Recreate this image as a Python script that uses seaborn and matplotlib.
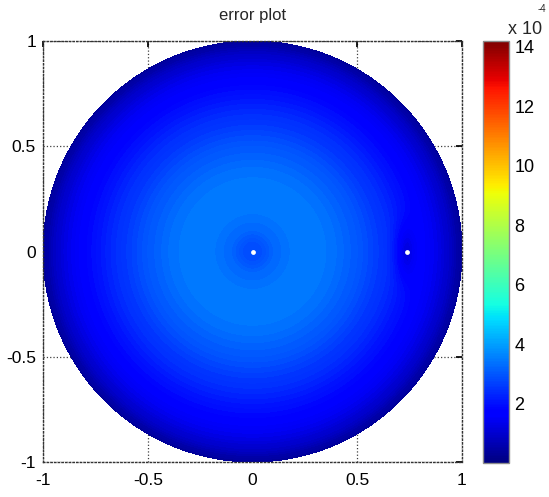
import numpy as np
import matplotlib
matplotlib.use("Agg")
import matplotlib.pyplot as plt
import seaborn as sns

# ---- data ----
title = "error plot"
radius = [0.0, 0.05, 0.1, 0.2, 0.3, 0.4, 0.5, 0.6, 0.7, 0.8, 0.9, 0.95, 1.0]
error_profile = [2.8, 2.9, 3.2, 3.45, 3.5, 3.3, 3.0, 2.6, 2.2, 1.75, 1.2, 0.8, 0.3]  # x 10^-4
spot_x = [0.737]
spot_y = [0.0]
spot_err = [1.2]
singular_x = [0.0, 0.737]
singular_y = [0.0, 0.0]
axis_ticks = [-1, -0.5, 0, 0.5, 1]
axis_ticklabels = ["-1", "-0.5", "0", "0.5", "1"]
cbar_ticks = [2, 4, 6, 8, 10, 12, 14]
cmin, cmax = 0.0, 14.2

sns.set_theme(style="white")
plt.rcParams["font.family"] = ["Liberation Sans", "DejaVu Sans"]

cmap = matplotlib.colormaps["jet"]

fig = plt.figure(figsize=(5.49, 4.97), dpi=100)
ax = fig.add_axes([43 / 549, 1 - 462 / 497, 419 / 549, 421 / 497])
cax = fig.add_axes([483 / 549, 1 - 463 / 497, 26 / 549, 422 / 497])

# field on a polar grid (unit disk)
rr = np.linspace(0, 1, 300)
tt = np.linspace(0, 2 * np.pi, 361)
R, T = np.meshgrid(rr, tt)
X = R * np.cos(T)
Y = R * np.sin(T)
Z = np.interp(R, radius, error_profile)
for sx, sy, se in zip(spot_x, spot_y, spot_err):
    w = np.exp(-((X - sx) / 0.05) ** 2 - ((Y - sy) / 0.13) ** 2)
    Z = Z * (1 - w) + se * w

levels = np.linspace(cmin, cmax, 143)
ax.contourf(X, Y, Z, levels=levels, cmap=cmap, vmin=cmin, vmax=cmax)
sns.scatterplot(x=singular_x, y=singular_y, color="white", s=12, linewidth=0, ax=ax, zorder=5)

ax.set_xlim(-1, 1)
ax.set_ylim(-1, 1)
ax.set_xticks(axis_ticks)
ax.set_xticklabels(axis_ticklabels)
ax.set_yticks(axis_ticks)
ax.set_yticklabels(axis_ticklabels)
ax.grid(True, linestyle=":", color="0.25", linewidth=0.9)
ax.set_axisbelow(True)
ax.tick_params(direction="in", length=4, top=True, right=True, labelsize=12.5,
               colors="black", pad=5)
ax.tick_params(axis="x", pad=8)
for sp in ax.spines.values():
    sp.set_linestyle(":")
    sp.set_color("0.2")
    sp.set_linewidth(1.0)
ax.set_title(title, fontsize=12, pad=15)

norm = matplotlib.colors.Normalize(vmin=cmin, vmax=cmax)
sm = matplotlib.cm.ScalarMappable(norm=norm, cmap=cmap)
cbar = fig.colorbar(sm, cax=cax, ticks=cbar_ticks)
cbar.outline.set_edgecolor("0.55")
cbar.outline.set_linewidth(1.0)
cax.yaxis.set_ticks_position("both")
cax.tick_params(direction="in", length=4, labelsize=13, colors="black", pad=4)
cax.tick_params(labelleft=False, labelright=True)

fig.text(508 / 549, 1 - 30 / 497, "x 10", fontsize=13, ha="left", va="center")
fig.text(538 / 549, 1 - 9 / 497, "-4", fontsize=7, ha="left", va="center")

fig.savefig("out.png", dpi=100)
